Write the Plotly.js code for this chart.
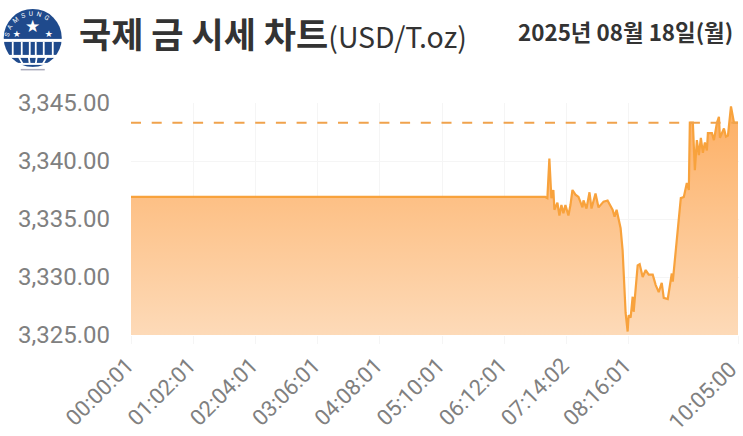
<!DOCTYPE html>
<html><head><meta charset="utf-8">
<script src="https://cdn.plot.ly/plotly-3.0.1.min.js"></script>
<style>html,body{margin:0;padding:0;background:#fff}#c{width:743px;height:436px}</style>
</head><body><div id="c"></div>
<script>
const titleMain = '국제 금 시세 차트';
const titleUnit = '(USD/T.oz)';
const dateLabel = '2025년 08월 18일(월)';
const tickLabels = ['00:00:01','01:02:01','02:04:01','03:06:01','04:08:01','05:10:01','06:12:01','07:14:02','08:16:01','10:05:00'];
const priceTicks = [3325,3330,3335,3340,3345];
const prevClose = 3343.3;
const minutes = [0,413,415,417,419,421,422,425,427,429,431,433,436,438,440,443,446,450,451,454,457,459,463,466,471,475,480,482,484,488,490,493,495,496,498,500,501,505,507,510,513,516,520,523,526,529,531,535,539,540,543,546,548,551,554,556,557,560,562,564,566,568,570,572,574,575,579,581,584,586,587,591,593,595,598,601,605];
const prices = [3336.9,3336.9,3336.8,3340.2,3336.8,3337.5,3335.8,3336.4,3335.3,3336.2,3335.5,3336.2,3335.3,3336.2,3337.5,3337.1,3336.9,3336.0,3336.6,3335.9,3337.3,3335.9,3337.2,3336.0,3336.5,3336.6,3335.8,3335.2,3335.8,3334.2,3332.3,3326.9,3325.3,3326.7,3326.5,3328.3,3327.0,3331.0,3331.1,3330.0,3330.6,3330.2,3330.2,3329.3,3328.7,3329.5,3328.2,3328.1,3330.3,3329.6,3332.3,3334.9,3336.8,3336.9,3338.1,3337.5,3343.3,3343.3,3339.2,3341.8,3340.5,3342.0,3340.7,3341.6,3340.9,3342.4,3342.4,3341.8,3343.3,3343.8,3342.0,3342.8,3342.1,3342.2,3344.7,3343.3,3343.3];

const toMin = s => { const [h,m,sec] = s.split(':').map(Number); return h*60+m+sec/60; };
const tickvals = tickLabels.map(toMin);
const base = priceTicks[0];
const xEnd = tickvals[tickvals.length-1];

const logoSvg = `<svg xmlns="http://www.w3.org/2000/svg" width="60" height="64" viewBox="0 0 60 64">
<defs><clipPath id="k"><circle cx="30" cy="30" r="29"/></clipPath>
<path id="a" d="M6 32 A24 24 0 0 1 54 32"/></defs>
<g clip-path="url(#k)"><rect width="60" height="31" fill="#1f4a8c"/>
<g fill="#1f4a8c"><rect x="0" y="34" width="60" height="13"/><rect x="6" y="50" width="48" height="5"/><rect x="16" y="57" width="28" height="2"/></g>
<g stroke="#fff" stroke-width="1.8" fill="none"><path d="M10 34V47M19 34V47M27 34V47M33 34V47M41 34V47M50 34V47M16 49L20 56M26 49L27 56M34 49L33 56M44 49L40 56"/></g></g>
<text font-family="Roboto" font-size="6.5" fill="#fff" letter-spacing="3.2"><textPath href="#a" startOffset="3">SAMSUNG</textPath></text>
<g fill="#fff" font-family="DejaVu Sans"><text x="30" y="24" font-size="17" text-anchor="middle">★</text><text x="14" y="29" font-size="9" text-anchor="middle">★</text><text x="46" y="29" font-size="9" text-anchor="middle">★</text></g>
<rect x="18" y="61" width="24" height="1.5" fill="#aab"/></svg>`;

const hiddenBase = {x:[tickvals[0],xEnd],y:[base,base],mode:'lines',line:{width:0},hoverinfo:'skip',showlegend:false};
const area = {x:minutes,y:prices,mode:'lines',line:{color:'#f8a23c',width:2.2},fill:'tonexty',
  fillgradient:{type:'vertical',start:3345,stop:3325,colorscale:[[0,'#fdae62'],[1,'#fddab8']]},showlegend:false};
const dash = {x:[tickvals[0],xEnd],y:[prevClose,prevClose],mode:'lines',line:{color:'#f0a24c',width:2,dash:'10px 10.7px'},showlegend:false};

const tickText = tickLabels.map((s,i)=> s + (i===tickLabels.length-1 ? '\u00A0\u00A0' : '\u00A0'));

const layout = {
  width:743,height:436,paper_bgcolor:'#fff',plot_bgcolor:'#fff',showlegend:false,
  margin:{l:131,r:4,t:103,b:101,pad:0},
  xaxis:{range:[tickvals[0],xEnd+1],tickmode:'array',tickvals,ticktext:tickText,tickangle:-45,ticklabelstandoff:-4,ticklabeloverflow:'allow',
    tickfont:{family:'Roboto',size:22,color:'#808080'},showgrid:true,gridcolor:'#f5f5f5',zeroline:false,showline:false,ticks:'outside',ticklen:8,tickcolor:'#f5f5f5'},
  yaxis:{range:[3325,3345],tickmode:'array',tickvals:priceTicks,ticktext:priceTicks.map(v=>v.toLocaleString('en-US',{minimumFractionDigits:2})),ticklabelstandoff:20,
    tickfont:{family:'Roboto',size:24,color:'#808080'},showgrid:true,gridcolor:'#f5f5f5',zeroline:false,showline:false,ticks:'',automargin:false},
  annotations:[
    {xref:'paper',yref:'paper',x:-0.088,y:1.305,xanchor:'left',yanchor:'middle',showarrow:false,
     text:`<b>${titleMain}</b><span style="font-size:28.5px">${titleUnit}</span>`,font:{family:'"Noto Sans CJK KR"',size:35,color:'#333'}},
    {xref:'paper',yref:'paper',x:0.993,y:1.31,xanchor:'right',yanchor:'middle',showarrow:false,
     text:`<b>${dateLabel}</b>`,font:{family:'"Noto Sans CJK KR"',size:22.4,color:'#333'}}
  ],
  images:[{source:'data:image/svg+xml;charset=utf-8,'+encodeURIComponent(logoSvg),xref:'paper',yref:'paper',
    x:-0.211,y:1.41,sizex:0.0988,sizey:0.276,xanchor:'left',yanchor:'top',sizing:'contain',layer:'above'}]
};
Plotly.newPlot('c',[hiddenBase,area,dash],layout,{displayModeBar:false,staticPlot:true});
</script></body></html>
